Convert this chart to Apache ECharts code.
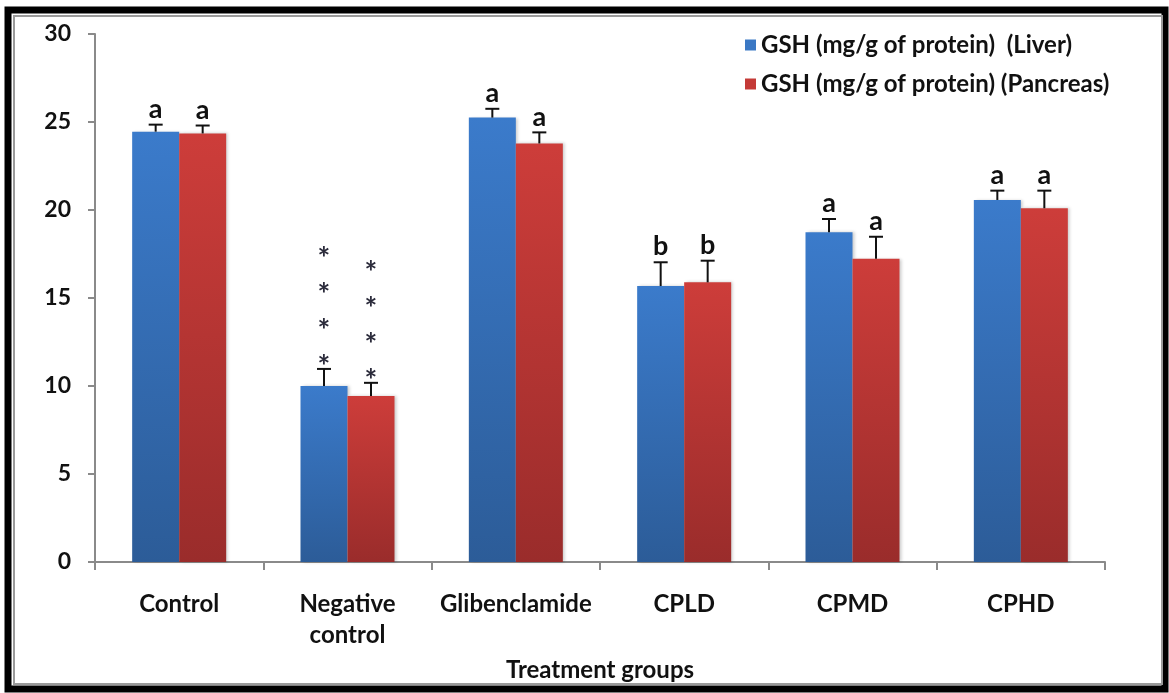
<!DOCTYPE html>
<html>
<head>
<meta charset="utf-8">
<script src="https://cdn.jsdelivr.net/npm/echarts@6/dist/echarts.min.js"></script>
<style>
  html, body { margin: 0; padding: 0; background: #fff; }
  #chart { width: 1169px; height: 693px; }
</style>
</head>
<body>
<div id="chart"></div>
<script>
// GSH levels by treatment group (mean ± SD)
const categories = ['Control', 'Negative\ncontrol', 'Glibenclamide', 'CPLD', 'CPMD', 'CPHD'];
const seriesNames = ['GSH (mg/g of protein)  (Liver)', 'GSH (mg/g of protein) (Pancreas)'];
const liverValues = [24.45, 10.0, 25.25, 15.68, 18.73, 20.57];
const liverErrors = [0.4, 0.97, 0.5, 1.35, 0.76, 0.53];
const liverLetters = ['a', '****', 'a', 'b', 'a', 'a'];
const pancreasValues = [24.35, 9.43, 23.78, 15.89, 17.23, 20.1];
const pancreasErrors = [0.45, 0.75, 0.63, 1.23, 1.25, 1.0];
const pancreasLetters = ['a', '****', 'a', 'b', 'a', 'a'];
const yTicks = [0, 5, 10, 15, 20, 25, 30];

const FONT = 'Lato, "Open Sans", sans-serif';
const BAR_W = 47;

const chart = echarts.init(document.getElementById('chart'), null, { renderer: 'canvas' });

function barGradient(top, bottom) {
  return new echarts.graphic.LinearGradient(0, 0, 0, 1, [
    { offset: 0, color: top },
    { offset: 1, color: bottom }
  ]);
}

// Error bar (upper whisker with cap) plus significance mark above it
function errorRenderer(values, errors, letters, side) {
  return function (params, api) {
    const i = api.value(0);
    const v = values[i];
    const e = errors[i];
    const base = api.coord([i, v]);
    const top = api.coord([i, v + e]);
    const x = base[0] + side * BAR_W / 2;
    const children = [
      { type: 'line', shape: { x1: x, y1: base[1], x2: x, y2: top[1] }, style: { stroke: '#111', lineWidth: 2 } },
      { type: 'line', shape: { x1: x - 7, y1: top[1], x2: x + 7, y2: top[1] }, style: { stroke: '#111', lineWidth: 2 } }
    ];
    const mark = letters[i];
    if (mark.indexOf('*') === 0) {
      for (let k = 0; k < mark.length; k++) {
        children.push({
          type: 'text',
          style: {
            text: '*', x: x, y: top[1] - 2 - k * 36,
            fill: '#2a2a3a', font: 'bold 30px ' + FONT,
            textAlign: 'center', textVerticalAlign: 'middle'
          }
        });
      }
    } else {
      children.push({
        type: 'text',
        style: {
          text: mark, x: x, y: top[1] - 2,
          fill: '#111', font: 'bold 27px ' + FONT,
          textAlign: 'center', textVerticalAlign: 'bottom'
        }
      });
    }
    return { type: 'group', children: children };
  };
}

const catIdx = categories.map((c, i) => [i]);

chart.setOption({
  animation: false,
  backgroundColor: '#fff',
  grid: { left: 95, right: 64, top: 34, bottom: 131, containLabel: false },
  legend: {
    show: true,
    orient: 'vertical',
    left: 740,
    top: 28,
    itemGap: 15,
    itemWidth: 11,
    itemHeight: 11,
    icon: 'rect',
    textStyle: { fontFamily: FONT, fontWeight: 'bold', fontSize: 24, color: '#111' },
    data: [
      { name: seriesNames[0], itemStyle: { color: '#3b78c4' } },
      { name: seriesNames[1], itemStyle: { color: '#c43a37' } }
    ]
  },
  xAxis: {
    type: 'category',
    data: categories,
    name: 'Treatment groups',
    nameLocation: 'middle',
    nameGap: 96,
    nameTextStyle: { fontFamily: FONT, fontWeight: 'bold', fontSize: 24, color: '#111' },
    axisLine: { lineStyle: { color: '#8a8a8a', width: 2 } },
    axisTick: { show: true, length: 8, lineStyle: { color: '#8a8a8a', width: 2 } },
    axisLabel: {
      interval: 0, margin: 27,
      fontFamily: FONT, fontWeight: 'bold', fontSize: 24, color: '#111', lineHeight: 31
    }
  },
  yAxis: {
    type: 'value',
    min: 0, max: 30, interval: 5,
    axisLine: { show: true, lineStyle: { color: '#8a8a8a', width: 2 } },
    axisTick: { show: true, length: 7, lineStyle: { color: '#8a8a8a', width: 2 } },
    splitLine: { show: false },
    axisLabel: {
      margin: 24,
      fontFamily: FONT, fontWeight: 'bold', fontSize: 23, color: '#111',
      formatter: v => (yTicks.indexOf(v) >= 0 ? String(v) : '')
    }
  },
  series: [
    {
      name: seriesNames[0],
      type: 'bar',
      data: liverValues,
      barWidth: BAR_W,
      barGap: '0%',
      itemStyle: {
        color: barGradient('#3b7bcb', '#2c5c98'),
        shadowColor: 'rgba(0,0,0,0.2)', shadowBlur: 3, shadowOffsetX: 2
      }
    },
    {
      name: seriesNames[1],
      type: 'bar',
      data: pancreasValues,
      barWidth: BAR_W,
      barGap: '0%',
      itemStyle: {
        color: barGradient('#cd3d3a', '#9a2c2b'),
        shadowColor: 'rgba(0,0,0,0.2)', shadowBlur: 3, shadowOffsetX: 2
      }
    },
    {
      type: 'custom',
      name: 'liverError',
      data: catIdx,
      renderItem: errorRenderer(liverValues, liverErrors, liverLetters, -1),
      z: 5,
      silent: true
    },
    {
      type: 'custom',
      name: 'pancreasError',
      data: catIdx,
      renderItem: errorRenderer(pancreasValues, pancreasErrors, pancreasLetters, 1),
      z: 5,
      silent: true
    }
  ],
  graphic: [
    // Framed border around the whole figure
    { type: 'rect', shape: { x: 8, y: 10, width: 1157, height: 679 }, style: { fill: null, stroke: '#000', lineWidth: 7 }, z: 100 },
    { type: 'rect', shape: { x: 14, y: 16, width: 1148, height: 668 }, style: { fill: null, stroke: '#9a9a9a', lineWidth: 2 }, z: 100 }
  ]
});
</script>
</body>
</html>
